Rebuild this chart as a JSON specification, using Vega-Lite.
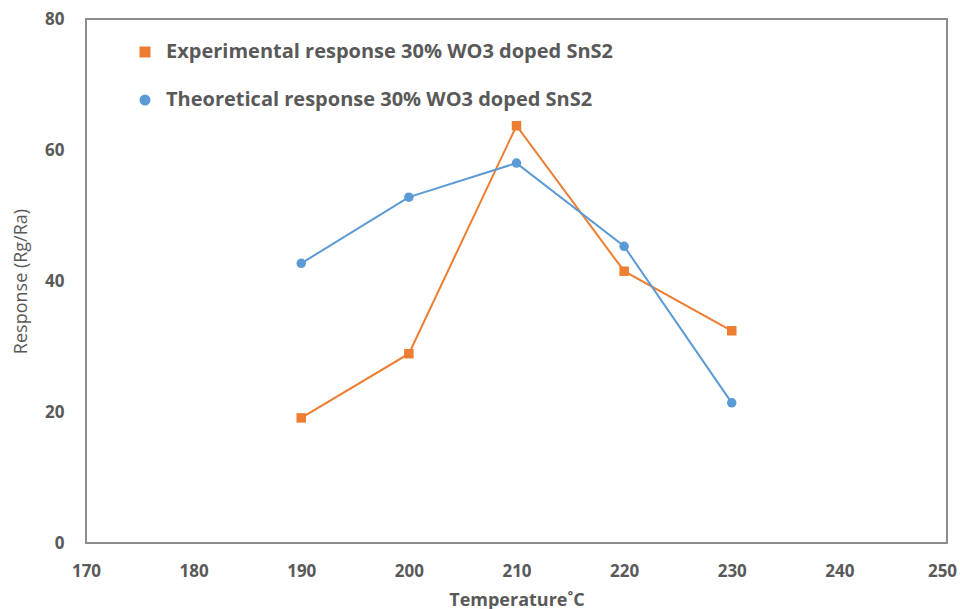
{
  "$schema": "https://vega.github.io/schema/vega-lite/v6.json",
  "width": 861,
  "height": 524,
  "autosize": {"type": "none"},
  "padding": {"left": 86, "top": 19, "right": 13, "bottom": 66},
  "background": "white",
  "config": {
    "view": {"stroke": "#8c8c8c", "strokeWidth": 2},
    "font": "Open Sans",
    "axis": {
      "domain": false,
      "ticks": false,
      "grid": false,
      "labelColor": "#595959",
      "labelFont": "Open Sans",
      "labelFontWeight": "bold",
      "labelFontSize": 17,
      "titleColor": "#595959",
      "titleFont": "Open Sans"
    },
    "legend": {
      "title": null,
      "orient": "none",
      "legendX": 49,
      "legendY": 23,
      "labelFontSize": 20,
      "labelFontWeight": "bold",
      "labelColor": "#595959",
      "labelFont": "Open Sans",
      "symbolSize": 90,
      "rowPadding": 28,
      "labelOffset": 11,
      "labelLimit": 700
    }
  },
  "data": {
    "values": [
      {"temp": 190, "response": 19.1, "series": "Experimental response 30% WO3 doped SnS2"},
      {"temp": 200, "response": 28.9, "series": "Experimental response 30% WO3 doped SnS2"},
      {"temp": 210, "response": 63.7, "series": "Experimental response 30% WO3 doped SnS2"},
      {"temp": 220, "response": 41.5, "series": "Experimental response 30% WO3 doped SnS2"},
      {"temp": 230, "response": 32.4, "series": "Experimental response 30% WO3 doped SnS2"},
      {"temp": 190, "response": 42.7, "series": "Theoretical response 30% WO3 doped SnS2"},
      {"temp": 200, "response": 52.8, "series": "Theoretical response 30% WO3 doped SnS2"},
      {"temp": 210, "response": 58.0, "series": "Theoretical response 30% WO3 doped SnS2"},
      {"temp": 220, "response": 45.3, "series": "Theoretical response 30% WO3 doped SnS2"},
      {"temp": 230, "response": 21.4, "series": "Theoretical response 30% WO3 doped SnS2"}
    ]
  },
  "encoding": {
    "x": {
      "field": "temp",
      "type": "quantitative",
      "scale": {"domain": [170, 250], "nice": false, "zero": false},
      "axis": {"values": [170, 180, 190, 200, 210, 220, 230, 240, 250], "labelPadding": 20, "labelOffset": {"condition": {"test": "datum.value == 250", "value": -5}, "value": 0}, "title": "Temperature˚C", "titleFontSize": 18, "titleFontWeight": "bold", "titlePadding": 12, "labelFlush": false}
    },
    "y": {
      "field": "response",
      "type": "quantitative",
      "scale": {"domain": [0, 80], "nice": false},
      "axis": {"values": [0, 20, 40, 60, 80], "labelPadding": 22, "title": "Response (Rg/Ra)", "titleFontSize": 18, "titleFontWeight": "normal", "titlePadding": 14, "labelFlush": false}
    },
    "color": {
      "field": "series",
      "type": "nominal",
      "scale": {"domain": ["Experimental response 30% WO3 doped SnS2", "Theoretical response 30% WO3 doped SnS2"], "range": ["#ED7D31", "#5B9BD5"]}
    }
  },
  "layer": [
    {
      "mark": {"type": "line", "strokeWidth": 2}
    },
    {
      "mark": {"type": "point", "filled": true, "opacity": 1, "size": 90},
      "encoding": {
        "shape": {
          "field": "series",
          "type": "nominal",
          "scale": {"domain": ["Experimental response 30% WO3 doped SnS2", "Theoretical response 30% WO3 doped SnS2"], "range": ["square", "circle"]}
        }
      }
    }
  ]
}
